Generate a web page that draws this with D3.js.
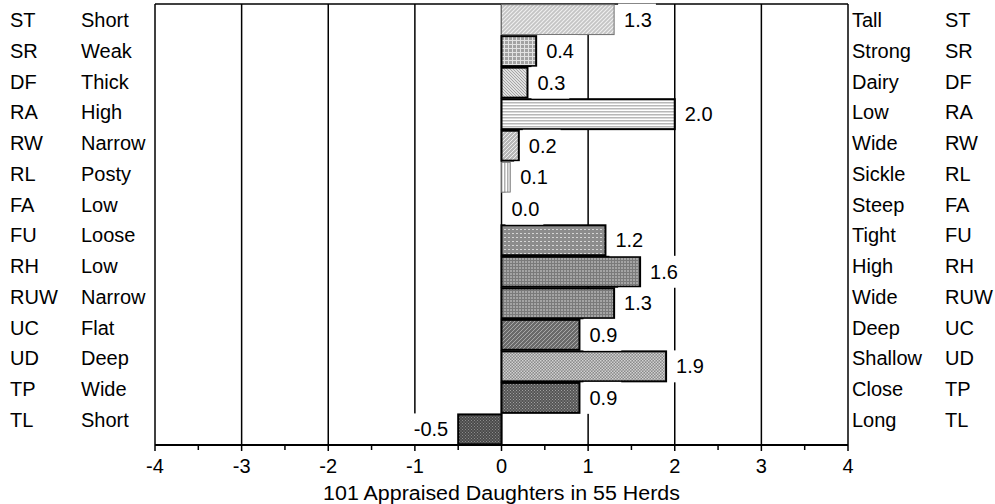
<!DOCTYPE html>
<html><head><meta charset="utf-8">
<script src="https://cdn.jsdelivr.net/npm/d3@7"></script>
<style>
html,body{margin:0;padding:0;background:#fff;}
svg{display:block;}
text{font-family:"Liberation Sans",Arial,sans-serif;fill:#000;}
</style></head>
<body><svg id="chart" width="995" height="504"></svg>
<script>
const codes = ["ST","SR","DF","RA","RW","RL","FA","FU","RH","RUW","UC","UD","TP","TL"];
const leftLabels = ["Short","Weak","Thick","High","Narrow","Posty","Low","Loose","Low","Narrow","Flat","Deep","Wide","Short"];
const rightLabels = ["Tall","Strong","Dairy","Low","Wide","Sickle","Steep","Tight","High","Wide","Deep","Shallow","Close","Long"];
const values = [1.3,0.4,0.3,2.0,0.2,0.1,0.0,1.2,1.6,1.3,0.9,1.9,0.9,-0.5];
const xTicks = [-4,-3,-2,-1,0,1,2,3,4];
const xMinorTicks = [-3.5,-2.5,-1.5,-0.5,0.5,1.5,2.5,3.5];
const xTitle = "101 Appraised Daughters in 55 Herds";

const svg = d3.select("#chart");
const plot = {left:155, right:848, top:4, bottom:445};
const FS = 20;

const x = d3.scaleLinear().domain([-4,4]).range([plot.left, plot.right]);
const y = d3.scaleBand().domain(codes).range([plot.top, plot.bottom]).paddingInner(0.05).paddingOuter(0.02);
const yl = d3.scalePoint().domain(codes).range([20, 420]);

// patterns
const defs = svg.append("defs");
function pat(id, size, bg, draw){
  const p = defs.append("pattern").attr("id", id).attr("patternUnits","userSpaceOnUse")
    .attr("width", size).attr("height", size);
  p.append("rect").attr("width", size).attr("height", size).attr("fill", bg);
  draw(p, size);
}
const line = (p,x1,y1,x2,y2,c,w,dash)=>{const l=p.append("line").attr("x1",x1).attr("y1",y1).attr("x2",x2).attr("y2",y2).attr("stroke",c).attr("stroke-width",w); if(dash) l.attr("stroke-dasharray",dash);};
const rect = (p,x0,y0,w,h,c)=>p.append("rect").attr("x",x0).attr("y",y0).attr("width",w).attr("height",h).attr("fill",c);
const diagUp = (p,s,c,w)=>{line(p,0,s,s,0,c,w);line(p,-1,1,1,-1,c,w);line(p,s-1,s+1,s+1,s-1,c,w);};

pat("pST",4,"#c4c4c4",(p,s)=>diagUp(p,s,"#f0f0f0",1.1));
pat("pSR",4,"#a2a2a2",(p,s)=>{rect(p,0,0,s,1,"#e2e2e2");rect(p,0,0,1,s,"#e2e2e2");});
pat("pDF",3,"#e0e0e0",(p,s)=>{line(p,0,0,s,s,"#959595",0.8);line(p,-1,s-1,1,s+1,"#959595",0.8);line(p,s-1,-1,s+1,1,"#959595",0.8);});
pat("pRA",3,"#ffffff",(p,s)=>{rect(p,0,0,s,1.5,"#b8b8b8");});
pat("pRW",4,"#b8b8b8",(p,s)=>diagUp(p,s,"#eeeeee",1));
pat("pRL",3,"#ffffff",(p,s)=>{rect(p,0,0,1.5,s,"#b0b0b0");});
pat("pFU",4,"#8c8c8c",(p,s)=>{line(p,0,1.5,2,1.5,"#d6d6d6",1);});
pat("pRH",3,"#7a7a7a",(p,s)=>{line(p,0,1,2,1,"#cfcfcf",1);});
pat("pRUW",3,"#7a7a7a",(p,s)=>{line(p,1,0,1,2,"#cfcfcf",1);});
pat("pUC",4,"#6a6a6a",(p,s)=>diagUp(p,s,"#a8a8a8",1));
pat("pUD",3,"#8a8a8a",(p,s)=>{rect(p,0,0,1.5,1.5,"#d0d0d0");rect(p,1.5,1.5,1.5,1.5,"#d0d0d0");});
pat("pTP",3,"#555555",(p,s)=>{rect(p,0,0,1,1,"#a0a0a0");rect(p,1.5,1.5,1,1,"#a0a0a0");});
pat("pTL",3,"#4a4a4a",(p,s)=>{rect(p,0,0,1,1,"#8c8c8c");rect(p,1.5,1.5,1,1,"#8c8c8c");});

const fills = {ST:"pST",SR:"pSR",DF:"pDF",RA:"pRA",RW:"pRW",RL:"pRL",FA:"pRL",FU:"pFU",RH:"pRH",RUW:"pRUW",UC:"pUC",UD:"pUD",TP:"pTP",TL:"pTL"};
const strokes = {ST:"#707070",RL:"#707070"};

// top frame
svg.append("line").attr("x1",plot.left).attr("x2",plot.right).attr("y1",plot.top).attr("y2",plot.top).attr("stroke","#000").attr("stroke-width",1.5);

// gridlines (incl. left/right frame)
svg.append("g").selectAll("line").data(xTicks).join("line")
  .attr("x1",d=>x(d)).attr("x2",d=>x(d)).attr("y1",plot.top).attr("y2",plot.bottom)
  .attr("stroke","#000").attr("stroke-width",1.5);

const data = codes.map((c,i)=>({code:c, v:values[i], l:leftLabels[i], r:rightLabels[i]}));

// bars
svg.append("g").selectAll("rect").data(data.filter(d=>d.v!==0)).join("rect")
  .attr("x",d=>x(Math.min(0,d.v))).attr("width",d=>Math.abs(x(d.v)-x(0)))
  .attr("y",d=>y(d.code)).attr("height",y.bandwidth())
  .attr("fill",d=>`url(#${fills[d.code]})`)
  .attr("stroke",d=>strokes[d.code]||"#000").attr("stroke-width",d=>strokes[d.code]?1:2);

// value labels with white boxes
const fmt = v => d3.format(".1f")(v).replace("\u2212","-");
const vg = svg.append("g");
data.forEach(d=>{
  const pos = d.v >= 0;
  const tx = pos ? x(d.v)+10 : x(d.v)-10;
  const g = vg.append("g");
  const box = g.append("rect").attr("fill","#fff");
  const t = g.append("text").attr("x",tx).attr("y",y(d.code)+y.bandwidth()/2)
    .attr("dy","0.35em").attr("font-size",FS).attr("text-anchor",pos?"start":"end").text(fmt(d.v));
  const bb = t.node().getBBox();
  box.attr("x",bb.x-6).attr("width",bb.width+10).attr("y",y(d.code)-1).attr("height",y.bandwidth()+2);
});

// axis
const ax = svg.append("g");
ax.append("line").attr("x1",plot.left).attr("x2",plot.right).attr("y1",plot.bottom).attr("y2",plot.bottom).attr("stroke","#000").attr("stroke-width",2);
ax.selectAll("line.maj").data(xTicks).join("line").attr("class","maj")
  .attr("x1",d=>x(d)).attr("x2",d=>x(d)).attr("y1",plot.bottom).attr("y2",plot.bottom+6).attr("stroke","#000").attr("stroke-width",1.5);
ax.selectAll("line.min").data(xMinorTicks).join("line").attr("class","min")
  .attr("x1",d=>x(d)).attr("x2",d=>x(d)).attr("y1",plot.bottom).attr("y2",plot.bottom+5).attr("stroke","#000").attr("stroke-width",1.5);
ax.selectAll("text").data(xTicks).join("text")
  .attr("x",d=>x(d)).attr("y",466).attr("dy","0.35em").attr("text-anchor","middle").attr("font-size",FS).text(d=>String(d));
svg.append("text").attr("transform",`translate(${x(0)},493) scale(1.07,1)`).attr("dy","0.35em").attr("text-anchor","middle").attr("font-size",FS).text(xTitle);

// side labels
const side = svg.append("g").attr("font-size",FS);
side.selectAll("text.lc").data(data).join("text").attr("class","lc").attr("x",10).attr("y",d=>yl(d.code)).attr("dy","0.35em").text(d=>d.code);
side.selectAll("text.ll").data(data).join("text").attr("class","ll").attr("x",81).attr("y",d=>yl(d.code)).attr("dy","0.35em").text(d=>d.l);
side.selectAll("text.rl").data(data).join("text").attr("class","rl").attr("x",852).attr("y",d=>yl(d.code)).attr("dy","0.35em").text(d=>d.r);
side.selectAll("text.rc").data(data).join("text").attr("class","rc").attr("x",945).attr("y",d=>yl(d.code)).attr("dy","0.35em").text(d=>d.code);
</script></body></html>
